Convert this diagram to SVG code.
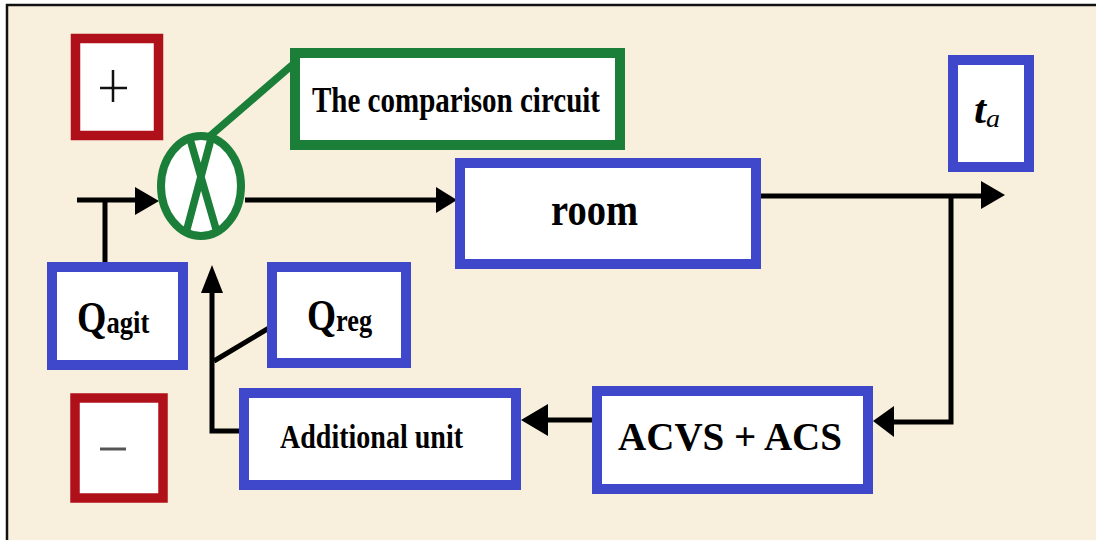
<svg xmlns="http://www.w3.org/2000/svg" width="1096" height="540" viewBox="0 0 1096 540">
<style>
.bg{fill:#F8F0DC}
.frame{stroke:#111;stroke-width:2.5;fill:none}
.blue{fill:#fff;stroke:#3F47CB;stroke-width:10}
.red{fill:#fff;stroke:#B0101A;stroke-width:9.5}
.green{fill:#fff;stroke:#1B7F3A;stroke-width:10}
.gline{stroke:#1B7F3A;stroke-width:7.5;fill:none;stroke-linecap:round}
.wire{stroke:#000;stroke-width:5;fill:none}
.head{fill:#000}
.t{font-family:"Liberation Serif","Times New Roman",serif;font-weight:bold;fill:#000}
</style>
<rect x="0" y="0" width="1096" height="540" fill="#fff"/>
<rect class="bg" x="7" y="5" width="1089" height="535"/>
<path class="frame" d="M7 540 V5 H1096"/>

<g id="connectors">
  <path class="wire" d="M77 200 H140"/>
  <polygon class="head" points="135,187 159,201 135,215"/>
  <path class="wire" d="M105 200 V262"/>
  <path class="wire" d="M245 200 H440"/>
  <polygon class="head" points="436,187 457,200 436,213"/>
  <path class="wire" d="M761 196 H985"/>
  <polygon class="head" points="981,181 1005,195 981,209"/>
  <path class="wire" d="M951 196 V422 H890"/>
  <polygon class="head" points="894,406 873,421 894,437"/>
  <path class="wire" d="M592 420 H545"/>
  <polygon class="head" points="548,404 521,420 548,436"/>
  <path class="wire" d="M239 431 H212 V290"/>
  <polygon class="head" points="201,293 212,265 223,293"/>
  <path class="wire" d="M214 361 L274 325"/>
</g>

<g id="plus">
  <rect class="red" x="75.5" y="38.5" width="83" height="97"/>
  <path d="M100 88 H127 M113 70 V102" stroke="#111" stroke-width="2.5"/>
</g>

<g id="minus">
  <rect class="red" x="75" y="398" width="88" height="100"/>
  <path d="M100 449 H126" stroke="#555" stroke-width="3"/>
</g>

<g id="comparator">
  <path class="gline" d="M210 136 L291 66"/>
  <ellipse cx="201" cy="186" rx="40" ry="50" fill="#fff" stroke="#1B7F3A" stroke-width="8"/>
  <path class="gline" d="M190 139 L216 229 M211 139 L187 229"/>
</g>

<g id="comparison-label">
  <rect class="green" x="295" y="53" width="325" height="92"/>
  <text class="t" x="312" y="112" font-size="35" textLength="288" lengthAdjust="spacingAndGlyphs">The comparison circuit</text>
</g>

<g id="room">
  <rect class="blue" x="460" y="163" width="296" height="101"/>
  <text class="t" x="551" y="225" font-size="46" textLength="87" lengthAdjust="spacingAndGlyphs">room</text>
</g>

<g id="ta">
  <rect class="blue" x="953" y="60" width="76" height="107"/>
  <text class="t" x="974" y="123" font-style="italic" textLength="26" lengthAdjust="spacingAndGlyphs"><tspan font-size="40">t</tspan><tspan font-size="26" font-weight="normal" dy="4">a</tspan></text>
</g>

<g id="qagit">
  <rect class="blue" x="52" y="267" width="131" height="98"/>
  <text class="t" transform="translate(77 332) scale(0.86 1)"><tspan font-size="44">Q</tspan><tspan font-size="31" dy="1">agit</tspan></text>
</g>

<g id="qreg">
  <rect class="blue" x="272" y="267" width="134" height="96"/>
  <text class="t" transform="translate(307 330) scale(0.85 1)"><tspan font-size="44">Q</tspan><tspan font-size="31" dy="1">reg</tspan></text>
</g>

<g id="additional">
  <rect class="blue" x="244" y="393" width="272" height="92"/>
  <text class="t" x="280" y="448" font-size="34" textLength="183" lengthAdjust="spacingAndGlyphs">Additional unit</text>
</g>

<g id="acvs">
  <rect class="blue" x="597" y="391" width="271" height="98"/>
  <text class="t" x="618" y="450" font-size="40" textLength="224" lengthAdjust="spacingAndGlyphs">ACVS + ACS</text>
</g>
</svg>
